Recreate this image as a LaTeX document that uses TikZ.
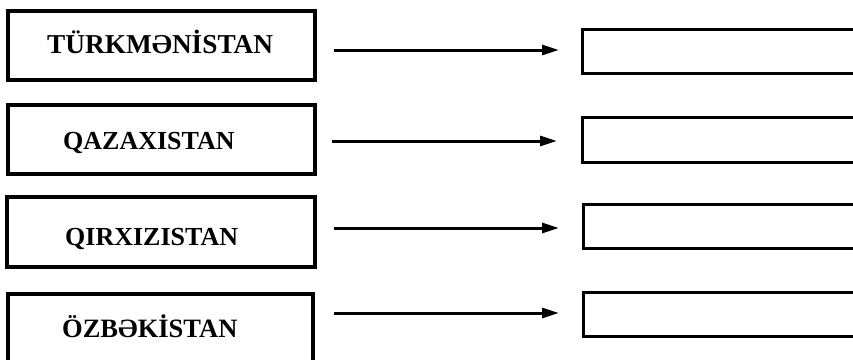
\documentclass[tikz,border=0pt]{standalone}
\usepackage{fontspec}
\setmainfont{Liberation Serif}
\usetikzlibrary{arrows.meta}
\begin{document}
\begin{tikzpicture}[x=1pt,y=-1pt,
  lbox/.style={draw=black,line width=3.5pt,minimum width=#1,inner sep=0pt},
  rbox/.style={draw=black,line width=3pt,inner sep=0pt},
  country/.style={anchor=base west,inner sep=0pt,font=\bfseries\fontsize{26}{28}\selectfont},
  conn/.style={line width=3pt,-{Triangle[length=17pt,width=10pt]}}]
\useasboundingbox[fill=white] (0,0) rectangle (853,359);
\begin{scope}
\clip (0,0) rectangle (853,359);
% left boxes
\node[lbox=307pt,minimum height=69pt] (b1) at (161.5,45.5) {};
\node[lbox=307pt,minimum height=69pt] (b2) at (161.5,139.5) {};
\node[lbox=308pt,minimum height=70pt] (b3) at (161,232) {};
\node[lbox=305pt,minimum height=110pt] (b4) at (160.5,349) {};
% right boxes
\node[rbox,minimum width=290pt,minimum height=44pt] (r1) at (727,51) {};
\node[rbox,minimum width=290pt,minimum height=45pt] (r2) at (727,139.5) {};
\node[rbox,minimum width=290pt,minimum height=44pt] (r3) at (728,226) {};
\node[rbox,minimum width=290pt,minimum height=44pt] (r4) at (728,314) {};
\end{scope}
% labels
\node[country,font=\bfseries\fontsize{27.3}{29}\selectfont] (t1) at (47,53) {TÜRKMƏNİSTAN};
\node[country] (t2) at (63,149) {QAZAXISTAN};
\node[country] (t3) at (65,245) {QIRXIZISTAN};
\node[country,font=\bfseries\fontsize{26.5}{28}\selectfont] (t4) at (62,337) {ÖZBƏKİSTAN};
% arrows
\coordinate (s1) at (334,50);  \coordinate (e1) at (559,50);
\coordinate (s2) at (332,141); \coordinate (e2) at (557,141);
\coordinate (s3) at (334,228); \coordinate (e3) at (559,228);
\coordinate (s4) at (334,313); \coordinate (e4) at (559,313);
\draw[conn] (s1) -- (e1);
\draw[conn] (s2) -- (e2);
\draw[conn] (s3) -- (e3);
\draw[conn] (s4) -- (e4);
\end{tikzpicture}
\end{document}
